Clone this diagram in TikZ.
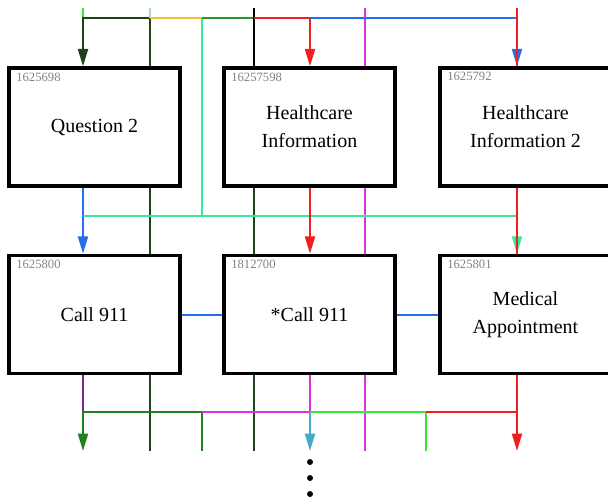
\documentclass[tikz,border=0pt]{standalone}
\usepackage{fontspec}
\setmainfont{Liberation Serif}
\usetikzlibrary{arrows.meta}

\definecolor{busdkgreen}{RGB}{28,66,28}
\definecolor{busltgreen}{RGB}{55,230,55}
\definecolor{bustipblue}{RGB}{175,210,222}
\definecolor{busyellow}{RGB}{245,195,50}
\definecolor{busspring}{RGB}{50,235,150}
\definecolor{busmidgreen}{RGB}{40,150,50}
\definecolor{busred}{RGB}{240,30,30}
\definecolor{busblue}{RGB}{40,110,235}
\definecolor{busmagenta}{RGB}{222,50,222}
\definecolor{buspurple}{RGB}{120,40,140}
\definecolor{busgreen}{RGB}{30,130,30}
\definecolor{busltblue}{RGB}{70,170,200}
\definecolor{idgray}{RGB}{130,130,130}

\begin{document}
\begin{tikzpicture}[x=0.75pt,y=-0.75pt,line width=1.5pt,
  box/.style={draw,line width=2.6pt,fill=white,minimum width=128.25pt,minimum height=88.5pt,
    align=center,font=\fontsize{15}{21}\selectfont},
  idtext/.style={anchor=north west,inner sep=0pt,xshift=6pt,yshift=-4pt,
    text=idgray,font=\fontsize{9.5}{11}\selectfont},
  arr/.style={-{Triangle[width=7.5pt,length=13pt]}}]
\useasboundingbox (0,0) rectangle (608,501);
% bus points
\coordinate (u1) at (83,8);
\coordinate (u2) at (150,8);
\coordinate (u4) at (254,8);
\coordinate (u5) at (365,8);
\coordinate (u6) at (517,8);
\coordinate (t1) at (83,18);
\coordinate (t2) at (150,18);
\coordinate (t3) at (202,18);
\coordinate (t4) at (254,18);
\coordinate (t5) at (310,18);
\coordinate (t6) at (517,18);
\coordinate (m1) at (83,216);
\coordinate (m3) at (202,216);
\coordinate (m6) at (517,216);
\coordinate (b1) at (83,412);
\coordinate (b3) at (202,412);
\coordinate (b5) at (310,412);
\coordinate (b7) at (426,412);
\coordinate (b6) at (517,412);
\coordinate (e1) at (83,451);
\coordinate (e2) at (150,451);
\coordinate (e3) at (202,451);
\coordinate (e4) at (254,451);
\coordinate (e5) at (310,451);
\coordinate (e6) at (365,451);
\coordinate (e7) at (426,451);
\coordinate (e8) at (517,451);
% lines passing behind the boxes
\draw[busdkgreen] (t2) -- (e2);
\draw[busdkgreen] (t4) -- (e4);
\draw[busmagenta] (u5) -- (e6);
\draw[busred] (u6) -- (b6);
% boxes
\node[box,label={[idtext]north west:1625698}] (qtwo) at (94.5,127) {Question 2};
\node[box,label={[idtext]north west:16257598}] (hinfo) at (309.5,127) {Healthcare\\Information};
\node[box,label={[idtext]north west:1625792}] (hinfotwo) at (525.5,127) {Healthcare\\Information 2};
\node[box,label={[idtext]north west:1625800}] (call) at (94.5,314.5) {Call 911};
\node[box,label={[idtext]north west:1812700}] (starcall) at (309.5,314.5) {*Call 911};
\node[box,label={[idtext]north west:1625801}] (medapp) at (525.5,314.5) {Medical\\Appointment};
% top
\draw[busltgreen] (u1) -- (t1);
\draw[arr][busdkgreen] (t2) -- (t1) -- (t1 |- qtwo.north);
\draw[bustipblue] (u2) -- (t2);
\draw[busyellow] (t2) -- (t3);
\draw[busspring] (t3) -- (m3);
\draw[busmidgreen] (t3) -- (t4);
\draw[black] (u4) -- (u4 |- hinfo.north);
\draw[arr][busred] (t4) -- (t5) -- (t5 |- hinfo.north);
\draw[arr][busblue] (t5) -- (t6) -- (t6 |- hinfotwo.north);
\draw[busred] (u6) -- (u6 |- hinfotwo.north);
% middle
\draw[arr][busblue] (m1 |- qtwo.south) -- (m1 |- call.north);
\draw[arr][busspring] (m1) -- (m6) -- (m6 |- medapp.north);
\draw[busred] (m6 |- hinfotwo.south) -- (m6 |- medapp.north);
\draw[arr][busred] (t5 |- hinfo.south) -- (t5 |- starcall.north);
\draw[busblue] (call.east) -- (starcall.west);
\draw[busblue] (starcall.east) -- (medapp.west);
% bottom
\draw[buspurple] (b1 |- call.south) -- (b1);
\draw[arr][busgreen] (b3) -- (b1) -- (e1);
\draw[busgreen] (b3) -- (e3);
\draw[busmagenta] (b3) -- (b5);
\draw[busmagenta] (b5 |- starcall.south) -- (b5);
\draw[arr][busltblue] (b5) -- (e5);
\draw[busltgreen] (b5) -- (b7) -- (e7);
\draw[busred] (b7) -- (b6);
\draw[arr][busred] (b6 |- medapp.south) -- (e8);
\fill (310,462) circle [radius=3];
\fill (310,478) circle [radius=3];
\fill (310,494) circle [radius=3];
\end{tikzpicture}
\end{document}
